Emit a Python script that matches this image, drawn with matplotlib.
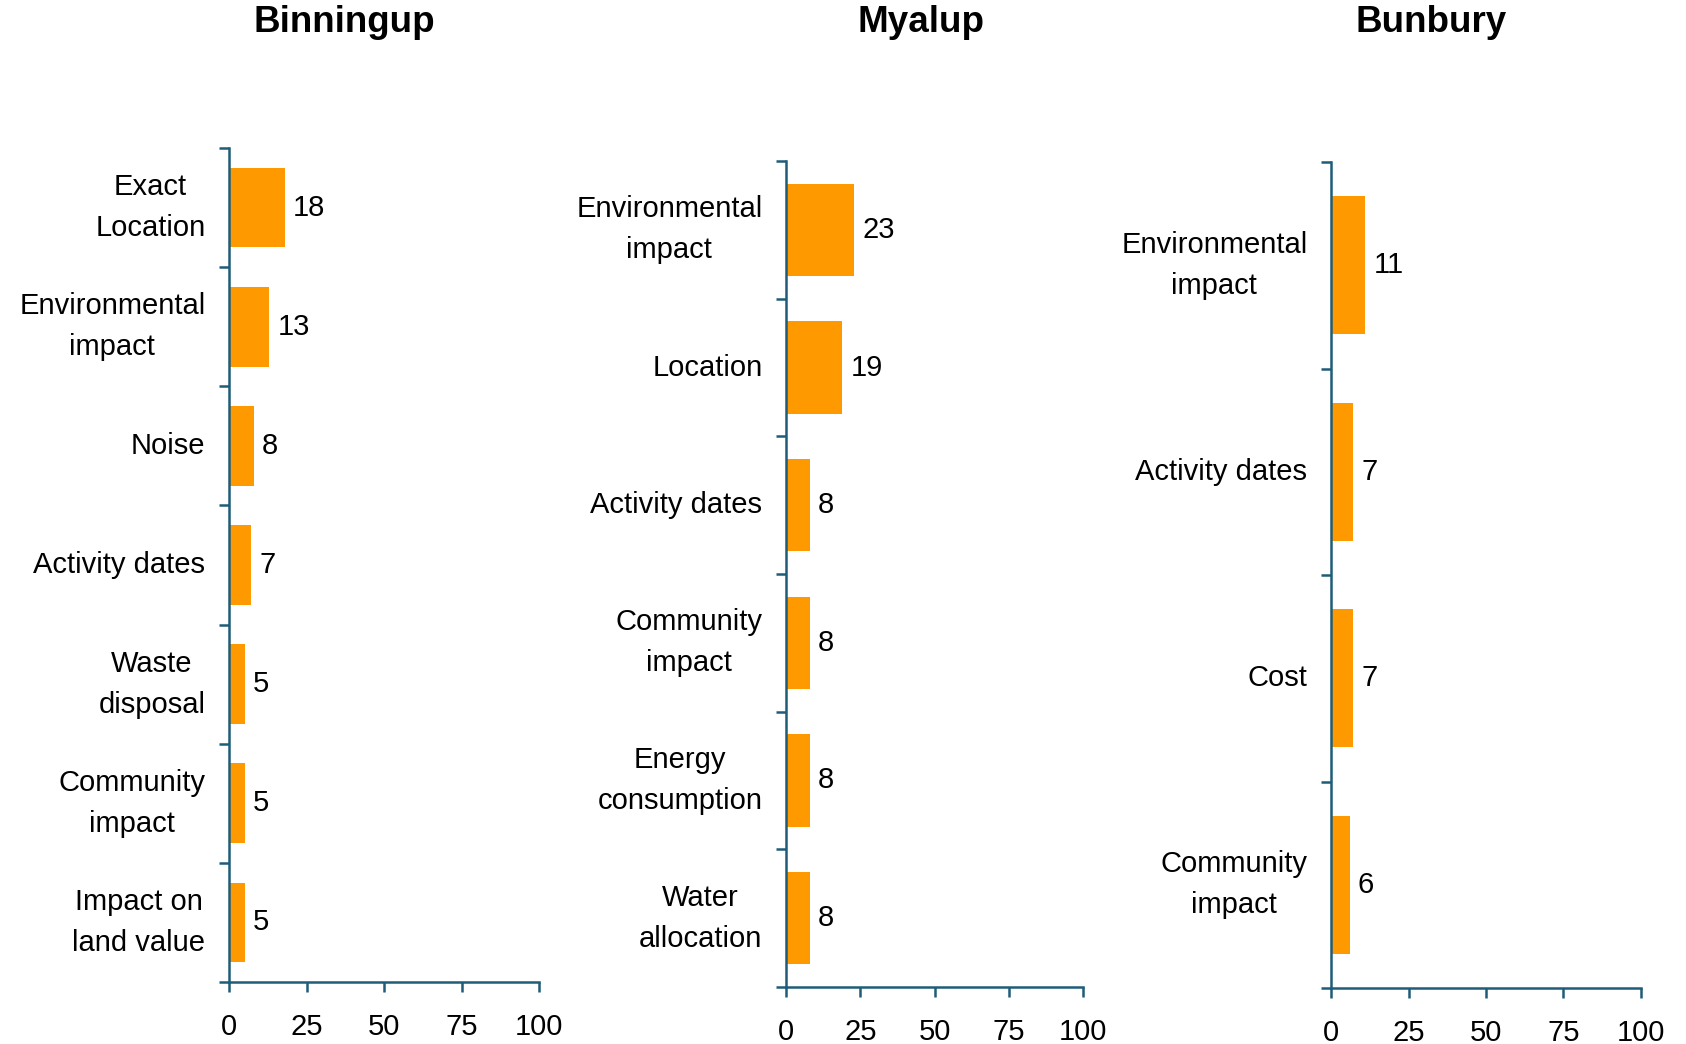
import matplotlib
matplotlib.use('Agg')
import matplotlib.pyplot as plt
from matplotlib.ticker import FixedLocator

plt.rcParams['font.family'] = ['Liberation Sans', 'DejaVu Sans']

# Binningup
binn_labels = ['Exact\nLocation', 'Environmental\nimpact', 'Noise', 'Activity dates',
               'Waste\ndisposal', 'Community\nimpact', 'Impact on\nland value']
binn_values = [18, 13, 8, 7, 5, 5, 5]

# Myalup
myal_labels = ['Environmental\nimpact', 'Location', 'Activity dates', 'Community\nimpact',
               'Energy\nconsumption', 'Water\nallocation']
myal_values = [23, 19, 8, 8, 8, 8]

# Bunbury
bunb_labels = ['Environmental\nimpact', 'Activity dates', 'Cost', 'Community\nimpact']
bunb_values = [11, 7, 7, 6]

titles = ['Binningup', 'Myalup', 'Bunbury']
x_ticks = [0, 25, 50, 75, 100]

bar_color = '#FF9900'
axis_color = '#1F5C78'

W, H = 1686, 1044
fig = plt.figure(figsize=(W / 100, H / 100), dpi=100)

# axes boxes in pixels: left, right, top, bottom
boxes = [(229, 539, 148, 982), (786, 1083, 161, 987), (1331, 1641, 162, 988)]
title_x = [344, 921, 1431]

panels = [(binn_labels, binn_values), (myal_labels, myal_values), (bunb_labels, bunb_values)]

for (labels, values), (l, r, t, b), title, tx in zip(panels, boxes, titles, title_x):
    ax = fig.add_axes([l / W, 1 - b / H, (r - l) / W, (b - t) / H])
    n = len(values)
    pos = list(range(n))
    ax.barh(pos, values, height=0.67, color=bar_color)
    ax.set_xlim(0, 100)
    ax.set_ylim(n - 0.5, -0.5)

    for p, v in zip(pos, values):
        ax.annotate(str(v), (v, p), xytext=(6, 0), textcoords='offset points',
                    va='center', ha='left', fontsize=21)

    ax.set_yticks(pos)
    ax.set_yticklabels(labels, fontsize=21)
    for lab in ax.get_yticklabels():
        lab.set_multialignment('center')
        lab.set_linespacing(1.6)
        lab.set_verticalalignment('center')
    ax.yaxis.set_minor_locator(FixedLocator([i - 0.5 for i in range(n + 1)]))
    ax.tick_params(axis='y', which='major', length=0, pad=17)
    ax.tick_params(axis='y', which='minor', length=7.2, width=1.8, color=axis_color, direction='out')

    ax.set_xticks(x_ticks)
    ax.set_xticklabels([str(x) for x in x_ticks], fontsize=21)
    ax.tick_params(axis='x', length=7.2, width=1.8, color=axis_color, direction='out', pad=15)

    for side in ['top', 'right']:
        ax.spines[side].set_visible(False)
    for side in ['left', 'bottom']:
        ax.spines[side].set_color(axis_color)
        ax.spines[side].set_linewidth(1.8)

    fig.text(tx / W, 1 - 32 / H, title, ha='center', va='baseline',
             fontsize=26.5, fontweight='bold')

fig.savefig('out.png', dpi=100)
